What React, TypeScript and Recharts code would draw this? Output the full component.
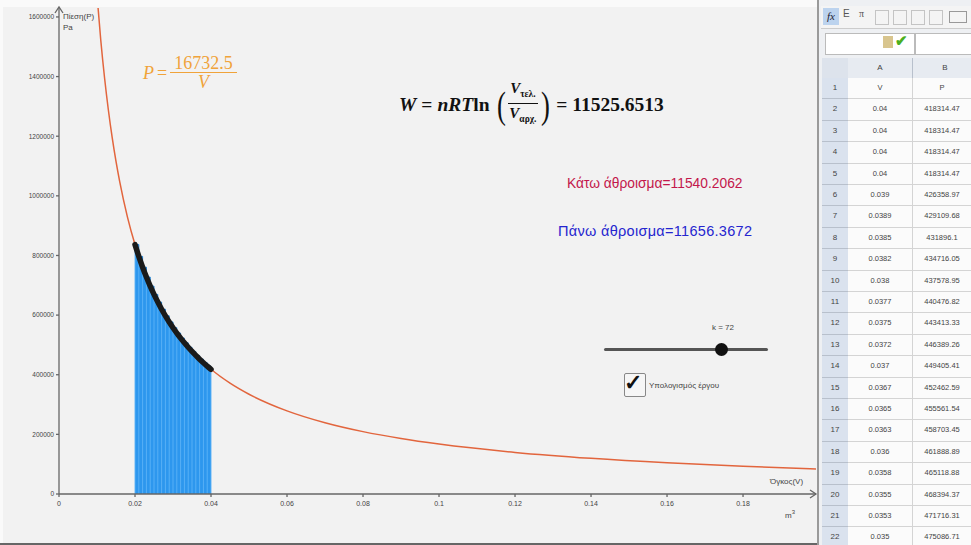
import React from 'react';
import { ComposedChart, Line, Area, XAxis, YAxis, ReferenceLine } from 'recharts';

// Curve P = 16732.5 / V
const curveV = [0.01, 0.011, 0.012, 0.013, 0.014, 0.015, 0.016, 0.018, 0.02, 0.022, 0.025, 0.028, 0.03, 0.035, 0.04, 0.045, 0.05, 0.06, 0.07, 0.08, 0.09, 0.1, 0.12, 0.14, 0.16, 0.18, 0.2];
const curveP = [1673250, 1521136, 1394375, 1287115, 1195179, 1115500, 1045781, 929583, 836625, 760568, 669300, 597589, 557750, 478071, 418313, 371833, 334650, 278875, 239036, 209156, 185917, 167325, 139438, 119518, 104578, 92958, 83663];

// Rectangles of the sum between V = 0.02 and V = 0.04 (left edges and heights)
const sumV = [0.02, 0.021, 0.022, 0.023, 0.024, 0.025, 0.026, 0.027, 0.028, 0.029, 0.03, 0.031, 0.032, 0.033, 0.034, 0.035, 0.036, 0.037, 0.038, 0.039, 0.04];
const sumP = [836625, 796786, 760568, 727500, 697188, 669300, 643558, 619722, 597589, 576983, 557750, 539758, 522891, 507045, 492132, 478071, 464792, 452230, 440329, 429038, 418313];

const xTicks = [0, 0.02, 0.04, 0.06, 0.08, 0.1, 0.12, 0.14, 0.16, 0.18];
const yTicks = [0, 200000, 400000, 600000, 800000, 1000000, 1200000, 1400000, 1600000];

const sheetRows = ['1', '2', '3', '4', '5', '6', '7', '8', '9', '10', '11', '12', '13', '14', '15', '16', '17', '18', '19', '20', '21', '22'];
const sheetA = ['V', '0.04', '0.04', '0.04', '0.04', '0.039', '0.0389', '0.0385', '0.0382', '0.038', '0.0377', '0.0375', '0.0372', '0.037', '0.0367', '0.0365', '0.0363', '0.036', '0.0358', '0.0355', '0.0353', '0.035'];
const sheetB = ['P', '418314.47', '418314.47', '418314.47', '418314.47', '426358.97', '429109.68', '431896.1', '434716.05', '437578.95', '440476.82', '443413.33', '446389.26', '449405.41', '452462.59', '455561.54', '458703.45', '461888.89', '465118.88', '468394.37', '471716.31', '475086.71'];

const curveData = curveV.map((v, i) => ({ v, p: curveP[i] }));
const sumData = sumV.map((v, i) => ({ v, p: sumP[i] }));

const sans = '"Liberation Sans", Arial, sans-serif';
const serif = '"Liberation Serif", "DejaVu Serif", serif';

function Spreadsheet() {
  const rowH = 21.4;
  const top0 = 78;
  return (
    <div style={{ position: 'absolute', left: 817, top: 0, width: 154, height: 545, background: '#eef0f3', fontFamily: sans, overflow: 'hidden' }}>
      <div style={{ position: 'absolute', left: 0, top: 0, width: 2, height: 545, background: '#9a9a9a' }} />
      {/* toolbar */}
      <div style={{ position: 'absolute', left: 4, top: 6, width: 150, height: 22, background: '#f4f4f4', borderBottom: '1px solid #ccc' }}>
        <div style={{ position: 'absolute', left: 2, top: 2, width: 16, height: 17, background: '#bcd3ee', fontFamily: serif, fontStyle: 'italic', fontSize: 11, textAlign: 'center', lineHeight: '17px', color: '#223' }}>fx</div>
        <div style={{ position: 'absolute', left: 22, top: 2, fontSize: 10, color: '#555' }}>E</div>
        <div style={{ position: 'absolute', left: 38, top: 2, fontSize: 10, color: '#555', fontFamily: serif }}>π</div>
        {[54, 72, 90, 108].map((x) => (
          <div key={x} style={{ position: 'absolute', left: x, top: 4, width: 12, height: 13, border: '1px solid #c4c4c4' }} />
        ))}
        <div style={{ position: 'absolute', left: 128, top: 5, width: 16, height: 10, border: '1px solid #999' }} />
      </div>
      {/* input bar */}
      <div style={{ position: 'absolute', left: 8, top: 33, width: 88, height: 20, background: '#fff', border: '1px solid #bbb' }} />
      <div style={{ position: 'absolute', left: 66, top: 36, width: 10, height: 12, background: '#d8c58e' }} />
      <div style={{ position: 'absolute', left: 78, top: 32, fontSize: 15, color: '#4caf1e', fontWeight: 'bold' }}>✔</div>
      <div style={{ position: 'absolute', left: 98, top: 33, width: 60, height: 20, background: '#fff', border: '1px solid #bbb' }} />
      {/* column header */}
      <div style={{ position: 'absolute', left: 5, top: 58, width: 26, height: 20, background: '#dde3ec', borderBottom: '1px solid #b8c0cc' }} />
      <div style={{ position: 'absolute', left: 31, top: 58, width: 64, height: 20, background: '#e7ebf1', borderRight: '1px solid #b8c0cc', borderBottom: '1px solid #b8c0cc', fontSize: 8, color: '#444', textAlign: 'center', lineHeight: '20px' }}>A</div>
      <div style={{ position: 'absolute', left: 96, top: 58, width: 64, height: 20, background: '#e7ebf1', borderBottom: '1px solid #b8c0cc', fontSize: 8, color: '#444', textAlign: 'center', lineHeight: '20px' }}>B</div>
      {sheetRows.map((r, i) => (
        <React.Fragment key={r}>
          <div style={{ position: 'absolute', left: 5, top: top0 + i * rowH, width: 26, height: rowH - 1, background: '#dae2ee', borderBottom: '1px solid #b8c0cc', borderRight: '1px solid #a8b4c6', fontSize: 8, color: '#444', textAlign: 'center', lineHeight: rowH - 1 + 'px' }}>{r}</div>
          <div style={{ position: 'absolute', left: 31, top: top0 + i * rowH, width: 64, height: rowH - 1, background: '#fbfbfb', borderBottom: '1px solid #d4d4d4', borderRight: '1px solid #d4d4d4', fontSize: 7.5, color: '#444', textAlign: 'center', lineHeight: rowH - 1 + 'px' }}>{sheetA[i]}</div>
          <div style={{ position: 'absolute', left: 96, top: top0 + i * rowH, width: 58, height: rowH - 1, background: '#fbfbfb', borderBottom: '1px solid #d4d4d4', fontSize: 7.5, color: '#444', textAlign: 'center', lineHeight: rowH - 1 + 'px' }}>{sheetB[i]}</div>
        </React.Fragment>
      ))}
    </div>
  );
}

export default function App() {
  return (
    <div style={{ position: 'absolute', left: 0, top: 0, width: 971, height: 545, background: '#fafafa', overflow: 'hidden', fontFamily: sans }}>
      <div style={{ position: 'absolute', left: 3, top: 7, width: 814, height: 536, background: '#f2f2f2' }} />
      <div style={{ position: 'absolute', left: 0, top: 543, width: 971, height: 2, background: '#666' }} />
      <div style={{ position: 'absolute', left: 0, top: 0 }}>
        <ComposedChart width={817} height={545} margin={{ top: 8, right: 1, bottom: 26, left: 0 }}>
          <XAxis
            type="number"
            dataKey="v"
            domain={[0, 0.1992]}
            ticks={xTicks}
            allowDataOverflow
            height={25}
            tickSize={3}
            tickMargin={4}
            tickFormatter={(v: number) => String(v)}
            tick={{ fontSize: 7, fill: '#444', fontFamily: sans }}
            stroke="#666"
            strokeWidth={1.3}
          />
          <YAxis
            type="number"
            dataKey="p"
            domain={[0, 1630000]}
            ticks={yTicks}
            allowDataOverflow
            width={59}
            tickSize={3}
            tickFormatter={(v: number) => String(v)}
            tick={{ fontSize: 6.5, fill: '#444', fontFamily: sans }}
            stroke="#666"
            strokeWidth={1.3}
          />
          <Area
            data={sumData}
            dataKey="p"
            type="stepAfter"
            fill="#2d97ee"
            fillOpacity={1}
            stroke="#1f7fd0"
            strokeWidth={1}
            isAnimationActive={false}
            dot={false}
            activeDot={false}
          />
          {sumData.map((d) => (
            <ReferenceLine
              key={d.v}
              segment={[{ x: d.v, y: 0 }, { x: d.v, y: d.p }]}
              stroke="#5cb2f6"
              strokeWidth={0.9}
              ifOverflow="visible"
            />
          ))}
          <Line
            data={curveData}
            dataKey="p"
            type="monotone"
            stroke="#e2653d"
            strokeWidth={1.5}
            dot={false}
            activeDot={false}
            isAnimationActive={false}
          />
          <Line
            data={sumData}
            dataKey="p"
            type="monotone"
            stroke="#1a1a1a"
            strokeWidth={5.5}
            strokeLinecap="round"
            dot={false}
            activeDot={false}
            isAnimationActive={false}
          />
        </ComposedChart>
      </div>
      {/* axis arrows */}
      <svg style={{ position: 'absolute', left: 0, top: 0 }} width={820} height={545}>
        <path d="M55,13 L59,7 L63,13" fill="none" stroke="#666" strokeWidth={1.3} />
        <path d="M810,490 L816,494 L810,498" fill="none" stroke="#666" strokeWidth={1.3} />
      </svg>
      {/* axis labels */}
      <div style={{ position: 'absolute', left: 63, top: 11, fontSize: 8, color: '#444', lineHeight: '11px' }}>
        Πίεση(P)<br />Pa
      </div>
      <div style={{ position: 'absolute', left: 770, top: 477, fontSize: 8, color: '#444' }}>Όγκος(V)</div>
      <div style={{ position: 'absolute', left: 785, top: 509, fontSize: 8, color: '#444' }}>
        m<sup style={{ fontSize: 6 }}>3</sup>
      </div>
      {/* P formula */}
      <div style={{ position: 'absolute', left: 143, top: 55, display: 'flex', alignItems: 'center', fontFamily: serif, color: '#f0a33a', fontSize: 18 }}>
        <span style={{ fontStyle: 'italic' }}>P</span>
        <span style={{ margin: '0 3px' }}>=</span>
        <span style={{ display: 'inline-flex', flexDirection: 'column', alignItems: 'center' }}>
          <span style={{ padding: '0 4px', lineHeight: '17px' }}>16732.5</span>
          <span style={{ width: '100%', height: 1, background: '#f0a33a' }} />
          <span style={{ fontStyle: 'italic', lineHeight: '19px' }}>V</span>
        </span>
      </div>
      {/* W formula */}
      <div style={{ position: 'absolute', left: 399, top: 80, display: 'flex', alignItems: 'center', fontFamily: serif, color: '#111', fontSize: 19.5, fontWeight: 'bold' }}>
        <span style={{ fontStyle: 'italic' }}>W</span>
        <span style={{ margin: '0 5px' }}>=</span>
        <span style={{ fontStyle: 'italic' }}>nRT</span>
        <span>ln</span>
        <span style={{ fontSize: 38, fontWeight: 'normal', lineHeight: '42px', margin: '0 1px 0 5px', transform: 'scaleX(0.7)' }}>(</span>
        <span style={{ display: 'inline-flex', flexDirection: 'column', alignItems: 'center', fontSize: 15 }}>
          <span style={{ lineHeight: '17px', padding: '0 2px' }}>
            <i>V</i><sub style={{ fontSize: 9.5 }}>τελ.</sub>
          </span>
          <span style={{ width: '100%', height: 1, background: '#111' }} />
          <span style={{ lineHeight: '19px' }}>
            <i>V</i><sub style={{ fontSize: 9.5 }}>αρχ.</sub>
          </span>
        </span>
        <span style={{ fontSize: 38, fontWeight: 'normal', lineHeight: '42px', margin: '0 5px 0 1px', transform: 'scaleX(0.7)' }}>)</span>
        <span>= 11525.6513</span>
      </div>
      <div style={{ position: 'absolute', left: 567, top: 176, fontSize: 13.8, color: '#c3174b' }}>Κάτω άθροισμα=11540.2062</div>
      <div style={{ position: 'absolute', left: 558, top: 223, fontSize: 14.5, color: '#2525cf', letterSpacing: 0.3 }}>Πάνω άθροισμα=11656.3672</div>
      {/* slider */}
      <div style={{ position: 'absolute', left: 712, top: 323, fontSize: 8, color: '#444' }}>k = 72</div>
      <div style={{ position: 'absolute', left: 604, top: 348, width: 164, height: 3, background: '#555', borderRadius: 2 }} />
      <div style={{ position: 'absolute', left: 715, top: 343, width: 13, height: 13, background: '#111', borderRadius: '50%' }} />
      {/* checkbox */}
      <div style={{ position: 'absolute', left: 624, top: 373, width: 20, height: 22, border: '1.5px solid #888', borderRadius: 2, background: '#f6f6f6' }} />
      <div style={{ position: 'absolute', left: 624, top: 370, fontSize: 22, color: '#111', fontWeight: 'bold' }}>✓</div>
      <div style={{ position: 'absolute', left: 649, top: 381, fontSize: 8, color: '#444' }}>Υπολογισμός έργου</div>
      <Spreadsheet />
    </div>
  );
}
